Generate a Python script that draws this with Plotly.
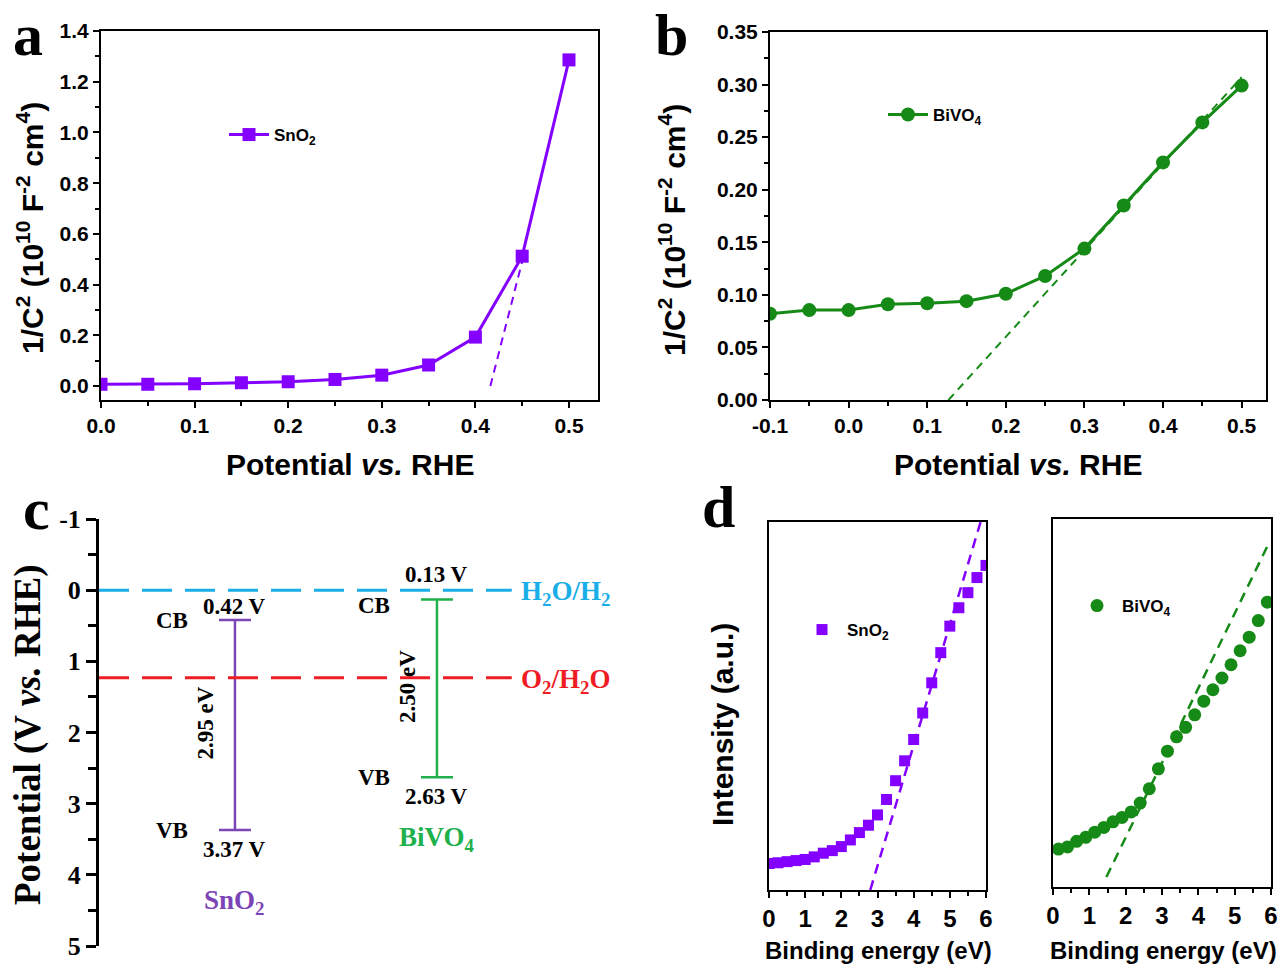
import plotly.graph_objects as go

W, H = 1282, 965

# ---------------- data ----------------
# panel a: Mott-Schottky SnO2
pot_a = [0.00, 0.05, 0.10, 0.15, 0.20, 0.25, 0.30, 0.35, 0.40, 0.45, 0.50]
sno2_ms = [0.007, 0.007, 0.009, 0.013, 0.017, 0.026, 0.043, 0.083, 0.193, 0.512, 1.286]
sno2_fit_x = [0.416, 0.452]
sno2_fit_y = [0.0, 0.52]

# panel b: Mott-Schottky BiVO4
pot_b = [-0.10, -0.05, 0.00, 0.05, 0.10, 0.15, 0.20, 0.25, 0.30, 0.35, 0.40, 0.45, 0.50]
bivo4_ms = [0.082, 0.0855, 0.0855, 0.091, 0.092, 0.094, 0.101, 0.118, 0.144, 0.185, 0.226, 0.264, 0.299]
bivo4_fit_x = [0.127, 0.50]
bivo4_fit_y = [0.0, 0.307]

# panel c: band positions
materials = ["SnO<sub>2</sub>", "BiVO<sub>4</sub>"]
cb_pot = [0.42, 0.13]
vb_pot = [3.37, 2.63]
band_gap = [2.95, 2.50]
redox_names = ["H<sub>2</sub>O/H<sub>2</sub>", "O<sub>2</sub>/H<sub>2</sub>O"]
redox_pot = [0.0, 1.23]

# panel d: VB-XPS
be_sno2 = [0.0, 0.25, 0.5, 0.75, 1.0, 1.25, 1.5, 1.75, 2.0, 2.25, 2.5, 2.75, 3.0,
           3.25, 3.5, 3.75, 4.0, 4.25, 4.5, 4.75, 5.0, 5.25, 5.5, 5.75, 6.0]
int_sno2 = [7.2, 7.4, 7.7, 8.0, 8.3, 9.0, 10.0, 10.7, 11.8, 13.6, 15.6, 17.6, 20.4,
            24.6, 29.7, 35.1, 40.9, 48.1, 56.3, 64.5, 71.7, 76.7, 80.8, 84.9, 88.2]
sno2_xps_fit_x = [2.80, 5.85]
sno2_xps_fit_y = [0.0, 100.0]

be_bivo4 = [0.15, 0.40, 0.65, 0.90, 1.15, 1.40, 1.65, 1.90, 2.15, 2.40, 2.65, 2.90,
            3.15, 3.40, 3.65, 3.90, 4.15, 4.40, 4.65, 4.90, 5.15, 5.40, 5.65, 5.90]
int_bivo4 = [10.3, 10.9, 12.4, 13.5, 14.9, 16.2, 17.7, 18.9, 20.4, 22.8, 26.7, 32.1,
             36.9, 40.8, 43.4, 46.8, 50.5, 53.6, 56.8, 60.4, 64.2, 67.9, 72.4, 77.4]
bivo4_xps_fit_x = [1.47, 5.90]
bivo4_xps_fit_y = [2.7, 92.6]

# tick values
a_xticks = [0.0, 0.1, 0.2, 0.3, 0.4, 0.5]
b_xticks = [-0.1, 0.0, 0.1, 0.2, 0.3, 0.4, 0.5]
c_yticks = [-1, 0, 1, 2, 3, 4, 5]

# ---------------- styles ----------------
PURPLE = "#8400ff"
GREEN = "#168a16"
C_PURPLE = "#7c45b6"
C_GREEN = "#20b04c"
BLUE = "#1aaee8"
RED = "#ee1c24"
SANS = "Arial, Liberation Sans, sans-serif"
SERIF = "Liberation Serif, Times New Roman, serif"


def px(x):
    return x / W


def py(y):
    return 1 - y / H


def ann(**kw):
    base = dict(showarrow=False, xanchor="center", yanchor="middle")
    base.update(kw)
    return base


fig = go.Figure()

# ---- panel a ----
fig.add_trace(go.Scatter(x=pot_a, y=sno2_ms, mode="lines+markers", name="SnO<sub>2</sub>",
                         line=dict(color=PURPLE, width=3),
                         marker=dict(symbol="square", size=13, color=PURPLE),
                         xaxis="x", yaxis="y", legend="legend"))
fig.add_trace(go.Scatter(x=sno2_fit_x, y=sno2_fit_y, mode="lines", showlegend=False,
                         line=dict(color=PURPLE, width=2, dash="8px,6px"),
                         xaxis="x", yaxis="y"))

# ---- panel b ----
fig.add_trace(go.Scatter(x=pot_b, y=bivo4_ms, mode="lines+markers", name="BiVO<sub>4</sub>",
                         line=dict(color=GREEN, width=3),
                         marker=dict(symbol="circle", size=14, color=GREEN),
                         xaxis="x2", yaxis="y2", legend="legend2"))
fig.add_trace(go.Scatter(x=bivo4_fit_x, y=bivo4_fit_y, mode="lines", showlegend=False,
                         line=dict(color=GREEN, width=2, dash="8px,6px"),
                         xaxis="x2", yaxis="y2"))

# ---- panel c ----
band_colors = [C_PURPLE, C_GREEN]
for i, name in enumerate(materials):
    fig.add_trace(go.Scatter(
        x=[i], y=[cb_pot[i]], mode="markers", showlegend=False,
        marker=dict(size=0.1, color=band_colors[i]),
        error_y=dict(type="data", symmetric=False, array=[vb_pot[i] - cb_pot[i]],
                     arrayminus=[0], width=16, thickness=2.5, color=band_colors[i]),
        xaxis="x3", yaxis="y3"))

redox_colors = [BLUE, RED]
shapes = []
annotations = []
for name, lvl, col in zip(redox_names, redox_pot, redox_colors):
    shapes.append(dict(type="line", xref="x3 domain", yref="y3", x0=0, x1=0.763,
                       y0=lvl, y1=lvl, line=dict(color=col, width=3, dash="30px,13px")))
    annotations.append(ann(xref="x3", yref="y3", x=1.405, y=lvl + 0.04, text=name,
                           xanchor="left",
                           font=dict(family=SERIF, size=27, color=col, weight="bold")))

cb_label_dy = [-0.19, -0.35]
f20 = dict(family=SERIF, size=23, color="black", weight="bold")
for i, name in enumerate(materials):
    annotations += [
        ann(xref="x3", yref="y3", x=i - 0.31, y=cb_pot[i] + (0.0 if i == 0 else 0.08),
            text="CB", font=f20),
        ann(xref="x3", yref="y3", x=i, y=cb_pot[i] + cb_label_dy[i],
            text=f"{cb_pot[i]:.2f} V", font=f20),
        ann(xref="x3", yref="y3", x=i - 0.31, y=vb_pot[i],
            text="VB", font=f20),
        ann(xref="x3", yref="y3", x=i, y=vb_pot[i] + 0.27,
            text=f"{vb_pot[i]:.2f} V", font=f20),
        ann(xref="x3", yref="y3", x=i - 0.145, y=(cb_pot[i] + vb_pot[i]) / 2 - 0.03,
            text=f"{band_gap[i]:.2f} eV", textangle=-90, font=f20),
        ann(xref="x3", yref="y3", x=i, y=vb_pot[i] + (1.01 if i == 0 else 0.86),
            text=name, font=dict(family=SERIF, size=27, color=band_colors[i], weight="bold")),
    ]

# ---- panel d ----
fig.add_trace(go.Scatter(x=be_sno2, y=int_sno2, mode="markers", name="SnO<sub>2</sub>",
                         marker=dict(symbol="square", size=11, color=PURPLE),
                         xaxis="x4", yaxis="y4", legend="legend3"))
fig.add_trace(go.Scatter(x=sno2_xps_fit_x, y=sno2_xps_fit_y, mode="lines", showlegend=False,
                         line=dict(color=PURPLE, width=2.5, dash="10px,7px"),
                         xaxis="x4", yaxis="y4"))
fig.add_trace(go.Scatter(x=be_bivo4, y=int_bivo4, mode="markers", name="BiVO<sub>4</sub>",
                         marker=dict(symbol="circle", size=13, color=GREEN),
                         xaxis="x5", yaxis="y5", legend="legend4"))
fig.add_trace(go.Scatter(x=bivo4_xps_fit_x, y=bivo4_xps_fit_y, mode="lines", showlegend=False,
                         line=dict(color=GREEN, width=2.5, dash="10px,7px"),
                         xaxis="x5", yaxis="y5"))

# ---------------- axes ----------------
tickfont = dict(family=SANS, size=21, color="black", weight="bold")
frame = dict(showline=True, linecolor="black", linewidth=2, mirror=True, automargin=False,
             showgrid=False, zeroline=False, ticks="outside", tickwidth=2,
             ticklen=6, tickcolor="black", tickfont=tickfont)
minor_x = dict(dtick=0.05, ticks="outside", ticklen=4, tickwidth=2, tickcolor="black")
dtickfont = dict(family=SANS, size=24, color="black", weight="bold")

fig.update_layout(
    xaxis=dict(frame, domain=[px(101), px(598)], range=[0, 0.531],
               tickvals=a_xticks, ticktext=[f"{v:.1f}" for v in a_xticks], anchor="y",
               minor=minor_x),
    yaxis=dict(frame, domain=[py(400), py(31)], range=[-0.055, 1.4], dtick=0.2,
               tickformat=".1f", anchor="x",
               minor=dict(dtick=0.1, ticks="outside", ticklen=4, tickwidth=2, tickcolor="black")),
    xaxis2=dict(frame, domain=[px(770), px(1266)], range=[-0.1, 0.531],
                tickvals=b_xticks, ticktext=[f"{v:.1f}" for v in b_xticks], anchor="y2",
                minor=dict(minor_x, tick0=0)),
    yaxis2=dict(frame, domain=[py(400), py(32)], range=[0, 0.35], dtick=0.05,
                tickformat=".2f", anchor="x2",
                minor=dict(dtick=0.025, ticks="outside", ticklen=4, tickwidth=2, tickcolor="black")),
    xaxis3=dict(domain=[px(99), px(640)], range=[-0.673, 2.005], visible=False,
                anchor="y3", automargin=False),
    yaxis3=dict(domain=[py(946), py(519)], range=[5, -1], autorange=False,
                tickvals=c_yticks, ticktext=[str(v) for v in c_yticks], automargin=False,
                showline=True, linecolor="black", linewidth=3, showgrid=False, zeroline=False,
                ticks="outside", ticklen=10, tickwidth=3, tickcolor="black",
                tickfont=dict(family=SERIF, size=26, color="black", weight="bold"),
                minor=dict(dtick=0.5, ticks="outside", ticklen=8, tickwidth=3, tickcolor="black"),
                anchor="x3"),
    xaxis4=dict(frame, domain=[px(769), px(986)], range=[0, 6], dtick=1, anchor="y4",
                tickfont=dtickfont,
                minor=dict(dtick=0.5, ticks="outside", ticklen=4, tickwidth=2, tickcolor="black")),
    yaxis4=dict(frame, domain=[py(890), py(522)], range=[0, 100], ticks="",
                showticklabels=False, anchor="x4"),
    xaxis5=dict(frame, domain=[px(1053), px(1271)], range=[0, 6], dtick=1, anchor="y5",
                tickfont=dtickfont,
                minor=dict(dtick=0.5, ticks="outside", ticklen=4, tickwidth=2, tickcolor="black")),
    yaxis5=dict(frame, domain=[py(887), py(519)], range=[0, 100], ticks="",
                showticklabels=False, anchor="x5"),
)

legfont = dict(family=SANS, size=17, color="black", weight="bold")
leg = dict(xanchor="left", yanchor="top", font=legfont, bgcolor="rgba(0,0,0,0)", itemwidth=40)
fig.update_layout(
    legend=dict(leg, x=px(224), y=py(117)),
    legend2=dict(leg, x=px(883), y=py(97)),
    legend3=dict(leg, x=px(797), y=py(612)),
    legend4=dict(leg, x=px(1072), y=py(588)),
)

title_font = dict(family=SANS, size=30, color="black", weight="bold")
annotations += [
    ann(xref="paper", yref="paper", x=px(350), y=py(464), text="Potential <i>vs.</i> RHE",
        font=title_font),
    ann(xref="paper", yref="paper", x=px(1018), y=py(464), text="Potential <i>vs.</i> RHE",
        font=title_font),
    ann(xref="paper", yref="paper", x=px(30), y=py(228), textangle=-90,
        text="1/C<sup>2</sup> (10<sup>10</sup> F<sup>-2</sup> cm<sup>4</sup>)", font=title_font),
    ann(xref="paper", yref="paper", x=px(672), y=py(230), textangle=-90,
        text="1/C<sup>2</sup> (10<sup>10</sup> F<sup>-2</sup> cm<sup>4</sup>)", font=title_font),
    ann(xref="paper", yref="paper", x=px(28), y=py(735), textangle=-90,
        text="Potential (V <i>vs.</i> RHE)",
        font=dict(family=SERIF, size=37, color="black", weight="bold")),
    ann(xref="paper", yref="paper", x=px(878), y=py(950), text="Binding energy (eV)",
        font=dict(family=SANS, size=24, color="black", weight="bold")),
    ann(xref="paper", yref="paper", x=px(1163), y=py(950), text="Binding energy (eV)",
        font=dict(family=SANS, size=24, color="black", weight="bold")),
    ann(xref="paper", yref="paper", x=px(722), y=py(725), textangle=-90,
        text="Intensity (a.u.)", font=dict(family=SANS, size=30, color="black", weight="bold")),
]
letter_font = dict(family=SERIF, size=60, color="black", weight="bold")
for letter, lx, ly in [("a", 28, 0), ("b", 671, 0), ("c", 36, 474), ("d", 718, 472)]:
    annotations.append(ann(xref="paper", yref="paper", x=px(lx), y=py(ly), text=letter,
                           yanchor="top", font=letter_font))

fig.update_layout(template="none", width=W, height=H, margin=dict(l=0, r=0, t=0, b=0),
                  paper_bgcolor="white", plot_bgcolor="white",
                  shapes=shapes, annotations=annotations)

fig.write_html("out.html", config={"displayModeBar": False},
               post_script="document.body.style.margin='0';document.body.style.overflow='hidden';")
